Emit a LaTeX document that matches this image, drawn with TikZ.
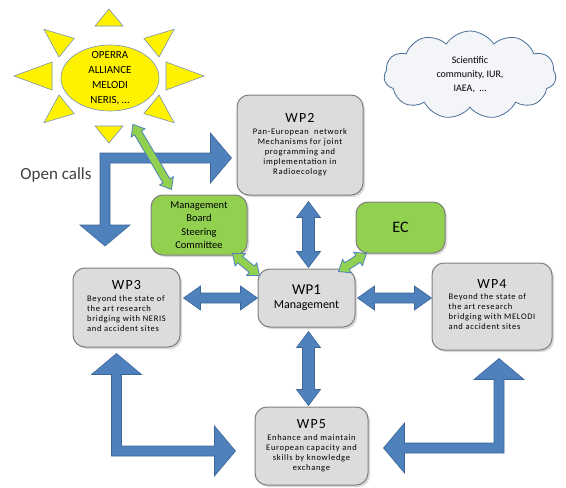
\documentclass[tikz,border=0pt]{standalone}
\usepackage{fontspec}
\setmainfont{Carlito}
\newfontfamily\wpfont{Carlito}[LetterSpace=8]
\usepackage{tikz}
\usetikzlibrary{calc,shapes.geometric,shapes.symbols,shadows}

\definecolor{boxgray}{HTML}{DCDCDC}
\definecolor{boxline}{HTML}{7F7F7F}
\definecolor{mbgreen}{HTML}{92D050}
\definecolor{arrowblue}{HTML}{4F81BD}
\definecolor{arrowline}{HTML}{3C6697}
\definecolor{sunline}{HTML}{7A93B5}
\definecolor{cloudline}{HTML}{4A6F96}
\definecolor{cloudfill}{HTML}{F3F5F8}
\definecolor{textgray}{HTML}{3F3F3F}

\tikzset{
  wpbox/.style={draw=boxline, line width=1pt, fill=boxgray, rounded corners=12pt, align=center,
    drop shadow={shadow xshift=2pt, shadow yshift=-2pt, opacity=0.3}},
  greenbox/.style={wpbox, fill=mbgreen, font=\fontsize{10.5}{13.5}\selectfont},
  bluearrow/.style={draw=arrowline, fill=arrowblue, line width=0.6pt, line join=miter},
  greenarrow/.style={draw=arrowblue, fill=mbgreen, line width=0.8pt, line join=miter},
  sunray/.style={draw=sunline, fill=yellow, line width=0.6pt},
}

\newcommand{\wpsmall}{\wpfont\fontsize{8.5}{10}\selectfont}
\newcommand{\wptitle}[1]{{\fontsize{14}{16}\selectfont #1}}
\newcommand{\leftlines}[1]{\begin{tabular}{@{}l@{}}#1\end{tabular}}

% straight block arrow with two heads: style, from, to, head length, head half width, shaft half width
\newcommand{\blockdbl}[6]{%
  \path (#2) coordinate (da) (#3) coordinate (db);
  \coordinate (dha) at ($(da)!#4!(db)$);
  \coordinate (dhb) at ($(db)!#4!(da)$);
  \draw[#1] (da) -- ($(dha)!#5!90:(db)$) -- ($(dha)!#6!90:(db)$) -- ($(dhb)!#6!-90:(da)$)
    -- ($(dhb)!#5!-90:(da)$) -- (db) -- ($(dhb)!#5!90:(da)$) -- ($(dhb)!#6!90:(da)$)
    -- ($(dha)!#6!-90:(db)$) -- ($(dha)!#5!-90:(db)$) -- cycle;
}

% bent block arrow: tip of the vertical leg, tip of the horizontal leg
\newcommand{\bahl}{21pt}
\newcommand{\bahw}{25pt}
\newcommand{\basw}{5pt}
\newcommand{\blockbent}[2]{%
  \path (#1) coordinate (tv) (#2) coordinate (th) (tv |- th) coordinate (bc);
  \coordinate (hv) at ($(tv)!\bahl!(bc)$);
  \coordinate (hh) at ($(th)!\bahl!(bc)$);
  \coordinate (ci) at ($(bc)!\basw!(th)$);
  \coordinate (co) at ($(bc)!-\basw!(th)$);
  \coordinate (ri) at ($(bc)!\basw!(tv)$);
  \coordinate (ro) at ($(bc)!-\basw!(tv)$);
  \coordinate (hin) at ($(bc)!\bahw!(tv)$);
  \coordinate (hout) at ($(bc)!-\bahw!(tv)$);
  \coordinate (vin) at ($(bc)!\bahw!(th)$);
  \coordinate (vout) at ($(bc)!-\bahw!(th)$);
  \draw[bluearrow] (co |- ro) -- (hh |- ro) -- (hh |- hout) -- (th) -- (hh |- hin) -- (hh |- ri)
    -- (ci |- ri) -- (ci |- hv) -- (vin |- hv) -- (tv) -- (vout |- hv) -- (co |- hv) -- cycle;
}

\begin{document}
\begin{tikzpicture}[x=1pt,y=-1pt]
\useasboundingbox (0,0) rectangle (566,488);

% sun
\foreach \a in {0,90,180,270} {
  \coordinate (rt) at ({109+95*cos(\a)},{76+67*sin(\a)});
  \coordinate (rb) at ({109+57*cos(\a)},{76+50*sin(\a)});
  \draw[sunray] (rt) -- ($(rb)!14pt!90:(rt)$) -- ($(rb)!14pt!-90:(rt)$) -- cycle;
}
\foreach \a in {45,135,225,315} {
  \coordinate (rt) at ({109+92*cos(\a)},{76+66*sin(\a)});
  \coordinate (rb) at ({109+60*cos(\a)},{76+40*sin(\a)});
  \draw[sunray] (rt) -- ($(rb)!12pt!90:(rt)$) -- ($(rb)!12pt!-90:(rt)$) -- cycle;
}
\node[ellipse, draw=sunline, fill=yellow, line width=0.6pt, minimum width=98pt, minimum height=66pt,
  inner xsep=0pt, inner ysep=-6pt, align=center, font=\fontsize{11}{15}\selectfont]
  (sun) at (110,78) {OPERRA\\ALLIANCE\\MELODI\\NERIS, \ldots};

% cloud
\node[cloud, cloud puffs=11, cloud puff arc=115, aspect=1.9, draw=cloudline, fill=cloudfill,
  line width=0.8pt, minimum width=172pt, minimum height=88pt, inner sep=0pt, align=center,
  font=\fontsize{10}{14}\selectfont] (sci) at (470,75) {Scientific\\community, IUR,\\IAEA, \ \ldots};

\node[font=\fontsize{17}{20}\selectfont, text=textgray] (calls) at (56,175) {Open calls};
\coordinate (callsdown) at (105,246);

% work packages
\node[wpbox, minimum width=126pt, minimum height=100pt, font=\wpsmall] (wp2) at (300,145)
  {\wptitle{WP2}\\[2pt]Pan-European\ \ network\\Mechanisms for joint\\programming and\\implementation in\\Radioecology};
\node[greenbox, minimum width=96pt, minimum height=60pt] (mb) at (199,225)
  {Management\\Board\\Steering\\Committee};
\node[greenbox, minimum width=89pt, minimum height=51pt, font=\fontsize{16}{18}\selectfont] (ec) at (400.5,227.5) {EC};
\node[wpbox, minimum width=97pt, minimum height=58pt, font=\fontsize{12}{14}\selectfont] (wp1) at (306.5,298)
  {{\fontsize{15}{17}\selectfont WP1}\\Management};
\node[wpbox, minimum width=107pt, minimum height=79pt, font=\wpsmall] (wp3) at (126.5,307.5)
  {\wptitle{WP3}\\[3pt]\leftlines{Beyond the state of\\the art research\\bridging with NERIS\\and accident sites}};
\node[wpbox, minimum width=120pt, minimum height=87pt, font=\wpsmall] (wp4) at (492,306.5)
  {\wptitle{WP4}\\[3pt]\leftlines{Beyond the state of\\the art research\\bridging with MELODI\\and accident sites}};
\node[wpbox, minimum width=113pt, minimum height=78pt, font=\wpsmall] (wp5) at (311.5,446)
  {\wptitle{WP5}\\[2pt]Enhance and maintain\\European capacity and\\skills by knowledge\\exchange};

% blue arrows
\blockdbl{bluearrow}{$(wp2.south -| wp1.north)+(2,6)$}{$(wp1.north)+(2,-1)$}{16pt}{12pt}{6pt}
\blockdbl{bluearrow}{$(wp1.west -| wp3.east)+(3,0)$}{wp1.west}{17pt}{12pt}{5pt}
\blockdbl{bluearrow}{$(wp1.east)+(2,0)$}{wp1.east -| wp4.west}{17pt}{12pt}{5pt}
\blockdbl{bluearrow}{$(wp1.south)+(2,4)$}{$(wp5.north -| wp1.south)+(2,-1)$}{16pt}{12pt}{6pt}
\blockbent{callsdown}{$(wp2.west)+(-5,13)$}
\blockbent{$(wp3.south)+(-10,6)$}{$(wp5.west)+(-19,5)$}
\blockbent{$(wp4.south)+(7,8)$}{$(wp5.east)+(15,2)$}

% green arrows
\blockdbl{greenarrow}{$(sun.south)+(23,13)$}{$(mb.north west)+(21,-5)$}{10pt}{8pt}{4pt}
\blockdbl{greenarrow}{$(mb.south east)+(-15,-2)$}{$(wp1.north west)+(2,7)$}{10pt}{8pt}{4pt}
\blockdbl{greenarrow}{$(ec.south west)+(11,0)$}{$(wp1.north east)+(-17,3)$}{10pt}{8pt}{4pt}

\end{tikzpicture}
\end{document}
